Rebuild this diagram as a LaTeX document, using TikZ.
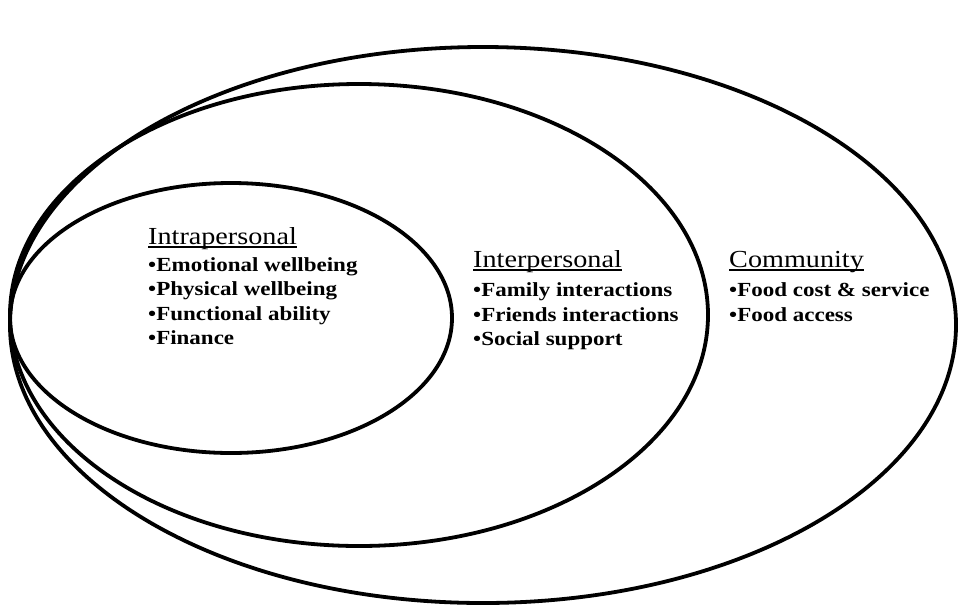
\documentclass[tikz,border=0pt]{standalone}
\usepackage{fontspec}
\setmainfont{Liberation Serif}[FakeStretch=1.15]
\newcommand{\hdul}[1]{\setbox0\hbox{#1}\rlap{\rule[-3.5pt]{\wd0}{1.3pt}}\box0}
\usetikzlibrary{positioning}

\tikzset{ring/.style={line width=3.8pt},
  head/.style={anchor=base west, inner sep=0pt,
    font=\fontsize{24.5}{26}\selectfont},
  item/.style={anchor=base west, inner sep=0pt,
    font=\bfseries\fontsize{20}{24}\selectfont}}

\begin{document}
\begin{tikzpicture}[x=1pt,y=-1pt]
\useasboundingbox (0,0) rectangle (958,606);
% nested levels
\draw[ring] (483,325) ellipse (473 and 278);
\draw[ring] (359,315) ellipse (349 and 231);
\draw[ring] (231,318) ellipse (221 and 135);
% intrapersonal
\node[head] (intra) at (148,244) {\hdul{Intrapersonal}};
\foreach \txt [count=\i] in {Emotional wellbeing, Physical wellbeing, Functional ability, Finance}
  \node[item] (intra\i) at (148,{246.5+24.5*\i}) {\textbullet\txt};
% interpersonal
\node[head] (inter) at (473,267) {\hdul{Interpersonal}};
\foreach \txt [count=\i] in {Family interactions, Friends interactions, Social support}
  \node[item] (inter\i) at (473,{272+24.5*\i}) {\textbullet\txt};
% community
\node[head] (comm) at (729,267) {\hdul{Community}};
\foreach \txt [count=\i] in {Food cost \& service, Food access}
  \node[item] (comm\i) at (729,{272+24.5*\i}) {\textbullet\txt};
\end{tikzpicture}
\end{document}
